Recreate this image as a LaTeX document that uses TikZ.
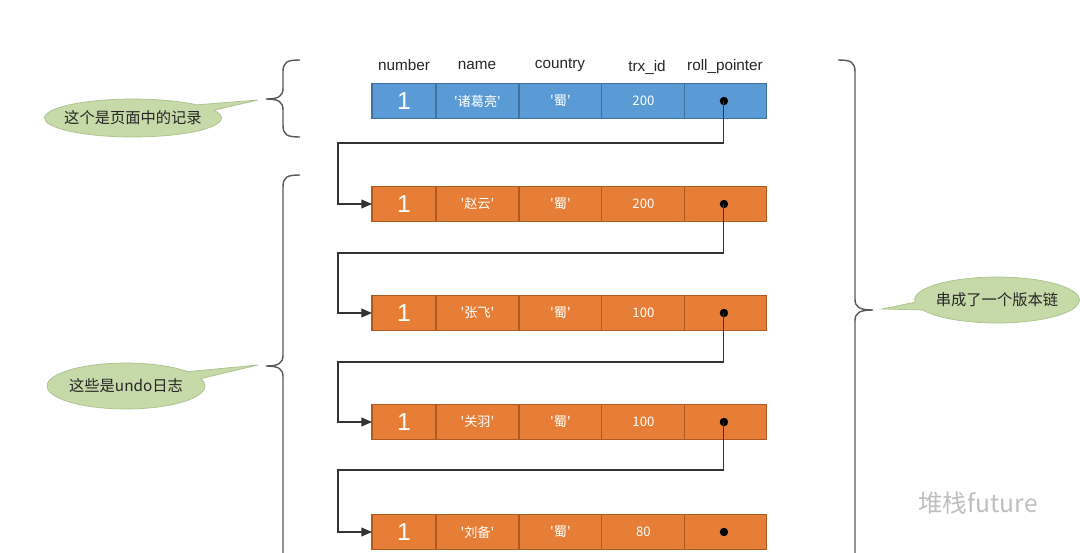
\documentclass[tikz,border=0pt]{standalone}
\usepackage{fontspec}
\setmainfont{Liberation Sans}
\newfontfamily\cjk{Noto Sans CJK SC}
\usetikzlibrary{positioning,arrows.meta,shapes.callouts}

\definecolor{recblue}{RGB}{91,155,213}
\definecolor{recline}{RGB}{65,113,156}
\definecolor{undoorange}{RGB}{230,126,55}
\definecolor{undoline}{RGB}{174,90,33}
\definecolor{notegreen}{RGB}{198,217,168}
\definecolor{noteline}{RGB}{172,194,142}

\tikzset{
  reccell/.style={draw=recline, fill=recblue, text=white, minimum height=0.7cm,
    inner sep=0pt, outer sep=0pt, line width=0.6pt, font=\cjk\fontsize{7.5}{9}\selectfont},
  undocell/.style={reccell, draw=undoline, fill=undoorange},
  head/.style={font=\fontsize{8.7}{10}\selectfont, text=black!85},
  link/.style={draw=black!80, line width=0.6pt, -{Triangle[length=6pt,width=5pt]}},
  brace/.style={draw=black!65, line width=0.8pt},
  note/.style={ellipse callout, fill=notegreen, draw=noteline, line width=0.4pt,
    inner xsep=-0.35cm, inner ysep=0pt, text=black!85, font=\cjk\fontsize{8.7}{10}\selectfont,
    callout pointer arc=20}
}

\begin{document}
\begin{tikzpicture}[x=0.02cm, y=-0.02cm]
  \useasboundingbox (0,0) rectangle (1080,552);

  % intestazioni
  \node[head] (hnum) at (404,65) {number};
  \node[head] (hname) at (477,65) {name};
  \node[head] (hcountry) at (560,65) {country};
  \node[head] (htrx) at (647,67) {trx\_id};
  \node[head] (hroll) at (725,67) {roll\_pointer};

  % record e undo log
  \foreach \r/\y/\nm/\trx/\kind in {0/101/诸葛亮/200/rec,1/204/赵云/200/undo,2/313/张飞/100/undo,3/422/关羽/100/undo,4/532/刘备/80/undo}{
    \node[\kind cell, minimum width=1.28cm, anchor=west, font=\fontsize{14}{14}\selectfont] (r\r-1) at (372,\y) {1};
    \node[\kind cell, minimum width=1.66cm, right=0pt of r\r-1] (r\r-2) {\textquotesingle\nm\textquotesingle};
    \node[\kind cell, minimum width=1.66cm, right=0pt of r\r-2] (r\r-3) {\textquotesingle 蜀\textquotesingle};
    \node[\kind cell, minimum width=1.66cm, right=0pt of r\r-3] (r\r-4) {\trx};
    \node[\kind cell, minimum width=1.64cm, right=0pt of r\r-4] (r\r-5) {};
    \fill ([xshift=-0.04cm]r\r-5.center) circle (2.4pt);
  }

  % roll_pointer
  \foreach \a/\b/\yy in {0/1/143,1/2/253,2/3/362,3/4/470}
    \draw[link] ([xshift=-0.04cm]r\a-5.center) |- (338,\yy) |- (r\b-1.west);

  % graffe
  \draw[brace] (300,60) .. controls (287,60) and (283,62) .. (283,72) -- (283,88)
    .. controls (283,96) and (279,99) .. (266,99) .. controls (279,99) and (283,102) .. (283,110)
    -- (283,125) .. controls (283,135) and (287,137) .. (300,137);
  \draw[brace] (300,175) .. controls (287,175) and (283,177) .. (283,187) -- (283,355)
    .. controls (283,363) and (279,366) .. (266,366) .. controls (279,366) and (283,369) .. (283,377)
    -- (283,560);
  \draw[brace] (838,60) .. controls (851,60) and (855,62) .. (855,72) -- (855,299)
    .. controls (855,307) and (859,310) .. (873,310) .. controls (859,310) and (855,313) .. (855,321)
    -- (855,560);

  % fumetti
  \node[note, minimum width=3.54cm, minimum height=0.76cm, callout absolute pointer={(258,100)}] (notepage) at (133,118) {这个是页面中的记录};
  \node[note, minimum width=3.16cm, minimum height=0.92cm, callout absolute pointer={(258,365)}] (noteundo) at (126,386) {这些是undo日志};
  \node[note, minimum width=3.3cm, minimum height=0.92cm, callout absolute pointer={(882,309)}] (notechain) at (997,300) {串成了一个版本链};

  % filigrana
  \node[text=black!25, font=\cjk\fontsize{14}{14}\selectfont] (mark) at (978,503) {堆栈future};
\end{tikzpicture}
\end{document}
